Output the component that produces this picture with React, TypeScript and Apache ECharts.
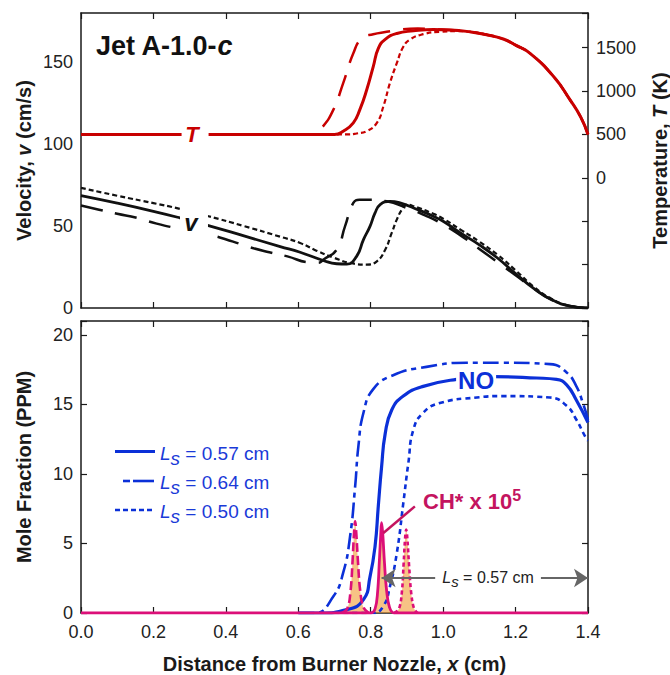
import React, { useEffect, useRef } from 'react';
import * as echarts from 'echarts';

// ---------------- data (x in cm) ----------------
// Temperature (K), right axis of top panel
const tempLs057: [number, number][] = [
  [0, 500], [0.7, 500], [0.724, 538], [0.752, 634], [0.77, 786], [0.789, 1015], [0.807, 1282],
  [0.821, 1492], [0.84, 1596], [0.872, 1664], [0.918, 1694], [0.973, 1710], [1.02, 1705],
  [1.074, 1683], [1.12, 1650], [1.166, 1600], [1.2, 1530], [1.24, 1435], [1.305, 1168],
  [1.35, 901], [1.38, 700], [1.4, 500],
];
const tempLs064: [number, number][] = [
  [0, 500], [0.64, 500], [0.665, 577], [0.697, 786], [0.724, 1092], [0.752, 1435], [0.775, 1607],
  [0.807, 1656], [0.844, 1683], [0.881, 1710], [0.93, 1720], [0.98, 1712], [1.02, 1705],
  [1.074, 1683], [1.12, 1650], [1.166, 1600], [1.2, 1530], [1.24, 1435], [1.305, 1168],
  [1.35, 901], [1.38, 700], [1.4, 500],
];
const tempLs050: [number, number][] = [
  [0, 500], [0.74, 500], [0.761, 511], [0.789, 538], [0.817, 634], [0.835, 824], [0.853, 1092],
  [0.872, 1321], [0.89, 1511], [0.909, 1596], [0.945, 1656], [0.991, 1683], [1.04, 1690],
  [1.074, 1683], [1.12, 1650], [1.166, 1600], [1.2, 1530], [1.24, 1435], [1.305, 1168],
  [1.35, 901], [1.38, 700], [1.4, 500],
];

// Velocity (cm/s), left axis of top panel
const velLs057: [number, number][] = [
  [0, 68.6], [0.1, 64], [0.2, 59], [0.273, 55], [0.352, 50.3], [0.45, 44], [0.55, 37.5],
  [0.605, 34], [0.669, 29], [0.706, 27], [0.734, 26.8], [0.761, 31.5], [0.78, 41.7],
  [0.798, 49.8], [0.812, 58], [0.826, 63.1], [0.853, 65.1], [0.881, 64.1], [0.93, 60],
  [0.973, 56], [1.0, 52.9], [1.05, 45.5], [1.1, 38.5], [1.15, 30.5], [1.2, 21], [1.25, 12],
  [1.3, 5], [1.35, 1.2], [1.4, 0],
];
const velLs064: [number, number][] = [
  [0, 62.5], [0.05, 60], [0.1, 57.5], [0.154, 55], [0.209, 51.5], [0.28, 48], [0.35, 45],
  [0.42, 40.5], [0.46, 37.5], [0.52, 34], [0.57, 31.5], [0.63, 27.8], [0.655, 27.6],
  [0.669, 29.5], [0.706, 35.6], [0.729, 49.8], [0.752, 64.1], [0.77, 66], [0.789, 66.1],
  [0.844, 65.1], [0.9, 61], [0.95, 56.5], [1.0, 51], [1.05, 44], [1.1, 36], [1.15, 28],
  [1.2, 20], [1.25, 12], [1.3, 5], [1.35, 1.2], [1.4, 0],
];
const velLs050: [number, number][] = [
  [0, 73.3], [0.1, 68.5], [0.2, 64], [0.273, 60.5], [0.352, 56], [0.45, 50], [0.55, 43.5],
  [0.605, 39.7], [0.65, 35], [0.7, 30.5], [0.743, 27.5], [0.789, 26.5], [0.817, 28.5],
  [0.84, 35.6], [0.858, 45.8], [0.872, 53.9], [0.886, 60], [0.899, 63.1], [0.92, 62],
  [0.973, 57.5], [1.0, 54.5], [1.05, 47.5], [1.1, 40.5], [1.15, 32.5], [1.2, 23], [1.25, 13],
  [1.3, 5.5], [1.35, 1.3], [1.4, 0],
];

// NO mole fraction (PPM), bottom panel
const noLs057: [number, number][] = [
  [0.6, 0], [0.66, 0], [0.734, 0.24], [0.78, 0.96], [0.798, 2.6], [0.812, 4.8], [0.821, 7.7],
  [0.83, 10.5], [0.84, 12.9], [0.858, 14.6], [0.89, 15.6], [0.945, 16.3], [1.037, 16.8],
  [1.139, 17.0], [1.258, 16.9], [1.313, 16.8], [1.341, 16.4], [1.368, 15.3], [1.4, 13.7],
];
const noLs064: [number, number][] = [
  [0.6, 0], [0.646, 0], [0.697, 1.2], [0.724, 2.9], [0.743, 5.5], [0.757, 9.1], [0.766, 12.0],
  [0.78, 14.4], [0.807, 16.1], [0.862, 17.1], [0.954, 17.7], [1.065, 18.0], [1.166, 18.0],
  [1.295, 17.9], [1.341, 17.3], [1.368, 16.3], [1.386, 15.1], [1.4, 13.9],
];
const noLs050: [number, number][] = [
  [0.7, 0], [0.807, 0], [0.835, 0.5], [0.853, 1.9], [0.872, 4.3], [0.89, 7.9], [0.904, 10.8],
  [0.918, 13.2], [0.945, 14.4], [0.991, 15.1], [1.093, 15.5], [1.166, 15.6], [1.295, 15.5],
  [1.341, 14.9], [1.368, 13.9], [1.392, 12.7], [1.4, 12.4],
];

// CH* x 10^5 peaks
const chLs064: [number, number][] = [
  [0.72, 0], [0.735, 0.3], [0.744, 1.5], [0.75, 3.8], [0.754, 5.8], [0.757, 6.6], [0.76, 5.8],
  [0.765, 3.6], [0.771, 1.6], [0.78, 0.4], [0.795, 0],
];
const chLs057: [number, number][] = [
  [0, 0], [0.8, 0], [0.812, 0.3], [0.819, 1.5], [0.824, 3.8], [0.828, 5.8], [0.83, 6.5],
  [0.833, 5.8], [0.838, 3.6], [0.844, 1.6], [0.852, 0.4], [0.865, 0], [1.4, 0],
];
const chLs050: [number, number][] = [
  [0.865, 0], [0.878, 0.3], [0.886, 1.5], [0.891, 3.6], [0.895, 5.4], [0.898, 6.0],
  [0.901, 5.4], [0.906, 3.4], [0.912, 1.4], [0.92, 0.3], [0.93, 0],
];

// annotation anchors (data coordinates)
const lsArrowY = 2.52;
const lsArrowStart = 0.83;
const lsArrowEnd = 1.4;
const legendLabels = ['0.57', '0.64', '0.50'];

// ---------------- styles ----------------
const FONT = '"Liberation Sans", Arial, Helvetica, sans-serif';
const RED = '#c80000';
const BLACK = '#111111';
const BLUE = '#0b30d8';
const LEGEND_BLUE = '#1a3ad8';
const MAGENTA = '#dc0f78';
const CH_TEXT = '#c4145f';
const ORANGE = 'rgba(242,155,50,0.85)';
const GRAY = '#666666';
const AXIS = '#1a1a1a';
const LABEL = '#222222';

function lineSeries(data: [number, number][], xi: number, yi: number, color: string, width: number, dash: any, extra: any = {}) {
  return {
    type: 'line',
    data,
    xAxisIndex: xi,
    yAxisIndex: yi,
    showSymbol: false,
    symbol: 'none',
    smooth: 0.5,
    silent: true,
    lineStyle: { color, width, type: dash, cap: 'butt', join: 'round' },
    ...extra,
  };
}

const tickLabel = { fontSize: 18, color: LABEL, fontFamily: FONT };
const nameRich = {
  b: { fontSize: 20, fontWeight: 'bold', fontFamily: FONT, color: AXIS },
  i: { fontSize: 20, fontWeight: 'bold', fontStyle: 'italic', fontFamily: FONT, color: AXIS },
};

export default function App() {
  const ref = useRef<HTMLDivElement>(null);
  useEffect(() => {
    if (!ref.current) return;
    const chart = echarts.init(ref.current, null, { renderer: 'svg' });

    const xCommon: any = {
      type: 'value', min: 0, max: 1.4, interval: 0.2,
      splitLine: { show: false },
      axisLine: { show: true, onZero: false, lineStyle: { color: AXIS, width: 1.5 } },
      axisTick: { show: true, inside: true, length: 6, lineStyle: { color: AXIS, width: 1.2 } },
      axisLabel: { show: false },
    };
    const yCommon: any = {
      type: 'value',
      splitLine: { show: false },
      axisLine: { show: true, onZero: false, lineStyle: { color: AXIS, width: 1.5 } },
      axisTick: { show: true, inside: true, length: 6, lineStyle: { color: AXIS, width: 1.2 } },
      nameMoveOverlap: false,
    };

    const legendRich = (num: string) => ({
      text: `{L|L}{s|s}{t| = ${num} cm}`,
      rich: {
        L: { fontSize: 19, fontStyle: 'italic', fontFamily: FONT, fill: LEGEND_BLUE, lineHeight: 20 },
        s: { fontSize: 19, fontStyle: 'italic', fontFamily: FONT, fill: LEGEND_BLUE, lineHeight: 20, padding: [10, 0, 0, 0] },
        t: { fontSize: 19, fontFamily: FONT, fill: LEGEND_BLUE, lineHeight: 20 },
      },
    });

    const option: any = {
      animation: false,
      backgroundColor: '#ffffff',
      grid: [
        { left: 81, top: 13, width: 507, height: 295, outerBoundsMode: 'none' },
        { left: 81, top: 321, width: 507, height: 292, outerBoundsMode: 'none' },
      ],
      xAxis: [
        { ...xCommon, gridIndex: 0, position: 'bottom' },
        { ...xCommon, gridIndex: 0, position: 'top' },
        {
          ...xCommon, gridIndex: 1, position: 'bottom',
          axisLabel: { show: true, ...tickLabel, margin: 10, formatter: (v: number) => v.toFixed(1) },
          name: '{b|Distance from Burner Nozzle, }{i|x}{b| (cm)}',
          nameLocation: 'middle', nameGap: 41, nameTextStyle: { rich: nameRich },
        },
        { ...xCommon, gridIndex: 1, position: 'top' },
      ],
      yAxis: [
        {
          ...yCommon, gridIndex: 0, position: 'left', min: 0, max: 180, interval: 50,
          axisTick: { show: false },
          axisLabel: { ...tickLabel, margin: 8, formatter: (v: number) => (v % 50 === 0 ? String(v) : '') },
          name: '{b|Velocity, }{i|v}{b| (cm/s)}', nameLocation: 'middle', nameGap: 47,
          nameTextStyle: { rich: nameRich },
        },
        {
          ...yCommon, gridIndex: 0, position: 'right', min: -1500, max: 1900, interval: 500,
          axisLabel: { ...tickLabel, margin: 8, formatter: (v: number) => (v >= 0 && v % 500 === 0 ? String(v) : '') },
          name: '{b|Temperature, }{i|T}{b| (K)}', nameLocation: 'middle', nameGap: 62,
          nameTextStyle: { rich: nameRich },
        },
        {
          ...yCommon, gridIndex: 1, position: 'left', min: 0, max: 21, interval: 5,
          axisLabel: { ...tickLabel, margin: 8, formatter: (v: number) => (v % 5 === 0 ? String(v) : '') },
          name: '{b|Mole Fraction (PPM)}', nameLocation: 'middle', nameGap: 47,
          nameTextStyle: { rich: nameRich },
        },
        {
          ...yCommon, gridIndex: 1, position: 'right', min: 0, max: 21, interval: 5,
          axisLabel: { show: false },
        },
      ],
      series: [
        // ---- top: temperature ----
        lineSeries(tempLs064, 0, 1, RED, 2.5, [22, 13]),
        lineSeries(tempLs050, 0, 1, RED, 2.2, [5, 3]),
        lineSeries(tempLs057, 0, 1, RED, 3, 'solid', {
          markPoint: {
            silent: true,
            data: [{
              coord: [0.315, 500], symbol: 'rect', symbolSize: [27, 22],
              itemStyle: { color: '#ffffff', borderWidth: 0 },
              label: {
                show: true, position: 'inside', formatter: 'T', offset: [-3, 0],
                color: RED, fontSize: 22, fontWeight: 'bold', fontStyle: 'italic', fontFamily: FONT,
              },
            }],
          },
        }),
        // ---- top: velocity ----
        lineSeries(velLs064, 0, 0, BLACK, 2.5, [22, 13]),
        lineSeries(velLs050, 0, 0, BLACK, 2.2, [5, 3]),
        lineSeries(velLs057, 0, 0, BLACK, 2.8, 'solid', {
          markPoint: {
            silent: true,
            data: [{
              coord: [0.312, 53], symbol: 'rect', symbolSize: [28, 36],
              itemStyle: { color: '#ffffff', borderWidth: 0 },
              label: {
                show: true, position: 'inside', formatter: 'v', offset: [-3, 1],
                color: BLACK, fontSize: 24, fontWeight: 'bold', fontStyle: 'italic', fontFamily: FONT,
              },
            }],
          },
        }),
        // ---- bottom: NO ----
        lineSeries(noLs064, 2, 2, BLUE, 2.6, [16, 5, 5, 5]),
        lineSeries(noLs050, 2, 2, BLUE, 2.6, [5, 4]),
        lineSeries(noLs057, 2, 2, BLUE, 3.2, 'solid', {
          markPoint: {
            silent: true,
            data: [{
              coord: [1.091, 16.72], symbol: 'rect', symbolSize: [40, 22],
              itemStyle: { color: '#ffffff', borderWidth: 0 },
              label: {
                show: true, position: 'inside', formatter: 'NO',
                color: BLUE, fontSize: 24, fontWeight: 'bold', fontFamily: FONT,
              },
            }],
          },
        }),
        // ---- bottom: CH* ----
        lineSeries(chLs064, 2, 2, MAGENTA, 2.6, [9, 4], { smooth: 0.4, areaStyle: { color: ORANGE, origin: 'start' } }),
        lineSeries(chLs057, 2, 2, MAGENTA, 2.8, 'solid', {
          smooth: 0.4,
          areaStyle: { color: ORANGE, origin: 'start' },
          markLine: {
            silent: true,
            symbolSize: 14,
            lineStyle: { color: GRAY, width: 2, type: 'solid' },
            label: { show: false },
            data: [
              [{ coord: [lsArrowStart, lsArrowY], symbol: 'arrow' }, { coord: [0.978, lsArrowY], symbol: 'none' }],
              [{ coord: [1.27, lsArrowY], symbol: 'none' }, { coord: [lsArrowEnd, lsArrowY], symbol: 'arrow' }],
            ],
          },
          markPoint: {
            silent: true,
            data: [{
              coord: [1.124, lsArrowY], symbol: 'rect', symbolSize: [100, 20],
              itemStyle: { color: 'rgba(255,255,255,0)', borderWidth: 0 },
              label: {
                show: true, position: 'inside',
                formatter: '{L|L}{s|s}{t| = 0.57 cm}',
                rich: {
                  L: { fontSize: 16, fontStyle: 'italic', fontFamily: FONT, color: LABEL, lineHeight: 18 },
                  s: { fontSize: 15, fontStyle: 'italic', fontFamily: FONT, color: LABEL, lineHeight: 18, padding: [8, 0, 0, 0] },
                  t: { fontSize: 16, fontFamily: FONT, color: LABEL, lineHeight: 18 },
                },
              },
            }],
          },
        }),
        lineSeries(chLs050, 2, 2, MAGENTA, 2.6, [4, 3], {
          smooth: 0.4,
          areaStyle: { color: ORANGE, origin: 'start' },
          markLine: {
            silent: true,
            symbol: 'none',
            lineStyle: { color: CH_TEXT, width: 2.5, type: 'solid' },
            label: { show: false },
            data: [[{ coord: [0.922, 7.67] }, { coord: [0.835, 5.75] }]],
          },
        }),
      ],
      graphic: [
        {
          type: 'text', x: 96, y: 46, z: 10,
          style: {
            text: '{a|Jet A-1.0-}{i|c}', verticalAlign: 'middle', align: 'left',
            rich: {
              a: { fontSize: 27, fontWeight: 'bold', fontFamily: FONT, fill: '#111' },
              i: { fontSize: 27, fontWeight: 'bold', fontStyle: 'italic', fontFamily: FONT, fill: '#111' },
            },
          },
        },
        {
          type: 'text', x: 423, y: 501.5, z: 10,
          style: {
            text: '{a|CH* x 10}{sup|5}', verticalAlign: 'middle', align: 'left',
            rich: {
              a: { fontSize: 22, fontWeight: 'bold', fontFamily: FONT, fill: CH_TEXT, lineHeight: 24 },
              sup: { fontSize: 16, fontWeight: 'bold', fontFamily: FONT, fill: CH_TEXT, lineHeight: 16, padding: [0, 0, 12, 0] },
            },
          },
        },
        // legend samples
        { type: 'line', z: 10, shape: { x1: 115, y1: 451.5, x2: 155, y2: 451.5 }, style: { stroke: BLUE, lineWidth: 3 } },
        { type: 'line', z: 10, shape: { x1: 123, y1: 481, x2: 130, y2: 481 }, style: { stroke: BLUE, lineWidth: 2.6 } },
        { type: 'line', z: 10, shape: { x1: 133, y1: 481, x2: 154, y2: 481 }, style: { stroke: BLUE, lineWidth: 2.6 } },
        { type: 'line', z: 10, shape: { x1: 115, y1: 510, x2: 155, y2: 510 }, style: { stroke: BLUE, lineWidth: 2.6, lineDash: [5, 3] } },
        { type: 'text', z: 10, x: 160, y: 453, style: { ...legendRich(legendLabels[0]), verticalAlign: 'middle', align: 'left' } },
        { type: 'text', z: 10, x: 160, y: 482, style: { ...legendRich(legendLabels[1]), verticalAlign: 'middle', align: 'left' } },
        { type: 'text', z: 10, x: 160, y: 511, style: { ...legendRich(legendLabels[2]), verticalAlign: 'middle', align: 'left' } },
      ],
    };

    chart.setOption(option);
    return () => chart.dispose();
  }, []);

  return (
    <div
      ref={ref}
      style={{ position: 'absolute', left: 0, top: 0, width: 670, height: 675, background: '#fff' }}
    />
  );
}
